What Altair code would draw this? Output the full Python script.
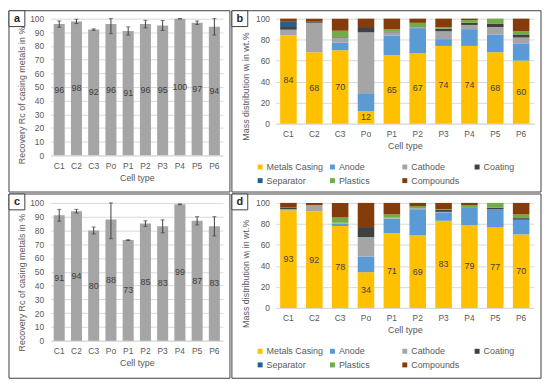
import altair as alt
import pandas as pd

cells = ["C1", "C2", "C3", "Po", "P1", "P2", "P3", "P4", "P5", "P6"]

# Panel a / c : recovery of casing metals (%) and error half-widths
rec_a = [96, 98, 92, 96, 91, 96, 95, 100, 97, 94]
err_a = [2.3, 1.6, 0.5, 7, 3, 2.8, 3.6, 0.2, 1.3, 6]
rec_c = [91, 94, 80, 88, 73, 85, 83, 99, 87, 83]
err_c = [4.3, 1.3, 2.5, 14, 0.3, 2, 4.7, 0.3, 3, 7]

components = ["Metals Casing", "Anode", "Cathode", "Coating", "Separator", "Plastics", "Compounds"]
comp_colors = ["#FFC000", "#5B9BD5", "#A5A5A5", "#404040", "#255E91", "#70AD47", "#843C0C"]

# Panel b : mass distribution (wt.%)
mc_b = [84, 68, 70, 12, 65, 67, 74, 74, 68, 60]
anode_b = [0, 0, 7, 17, 19, 24, 6.5, 16, 17, 16]
cathode_b = [5.5, 28, 5, 58, 3, 1, 7.5, 4, 7, 6]
coating_b = [2.5, 1, 0.5, 5, 0.5, 0, 2.5, 2, 3, 3]
separator_b = [5, 0, 0, 0, 0, 0, 0, 0, 0, 0]
plastics_b = [0, 0, 6, 0, 2.5, 4, 1.5, 2.5, 5, 3]
compounds_b = [3, 3, 11.5, 8, 10, 4, 8, 1.5, 0, 12]

# Panel d : mass distribution (wt.%)
mc_d = [93, 92, 78, 34, 71, 69, 83, 79, 77, 70]
anode_d = [0.5, 0, 2.5, 15, 14, 25, 8, 17, 17, 14]
cathode_d = [0.5, 6, 0.5, 18.5, 1.5, 1, 0.5, 0, 0, 0]
coating_d = [1.5, 0, 0, 9.5, 0, 0, 2, 0, 1.5, 1.5]
separator_d = [0.5, 0, 0, 0, 0, 0, 0, 0, 0, 0]
plastics_d = [0, 0, 5, 0, 2.5, 2, 0.5, 2, 4.5, 3.5]
compounds_d = [4, 2, 14, 23, 11, 3, 6, 2, 0, 11]

FONT = "Liberation Sans"
GRAY = "#595959"
DARK = "#404040"
GRID = "#D9D9D9"


def x_enc(lp, tp):
    return alt.X(
        "cell:N", sort=cells, title="Cell type",
        scale=alt.Scale(paddingInner=0.36, paddingOuter=0.18),
        axis=alt.Axis(title="Cell type", labelAngle=0, ticks=False, grid=False,
                      domainColor=GRID, labelPadding=lp, titlePadding=tp),
    )


def decorations(letter, w, h, fl, fr, ft, fb):
    frame = alt.Chart(pd.DataFrame({"k": [0]})).mark_rect(
        fillOpacity=0, stroke=DARK, strokeWidth=1
    ).encode(x=alt.value(fl), x2=alt.value(w + fr), y=alt.value(ft), y2=alt.value(h + fb))
    box = alt.Chart(pd.DataFrame({"k": [0]})).mark_rect(
        fill="white", stroke=DARK, strokeWidth=1
    ).encode(x=alt.value(fl), x2=alt.value(fl + 16), y=alt.value(ft), y2=alt.value(ft + 16))
    lab = alt.Chart(pd.DataFrame({"l": [letter]})).mark_text(
        font=FONT, fontSize=11, fontWeight="bold", color="#262626", baseline="middle", align="center"
    ).encode(x=alt.value(fl + 8), y=alt.value(ft + 8.5), text="l:N")
    return frame, box, lab


def rec_y(field, ty):
    return alt.Y(field, scale=alt.Scale(domain=[0, 100]), title="Recovery Rc of casing metals in %",
                 axis=alt.Axis(values=list(range(0, 101, 10)),
                               title="Recovery Rc of casing metals in %",
                               labelPadding=7, titlePadding=3, titleLimit=300, titleY=ty))


def comp_y(field, ty, stack=None):
    kw = {}
    if stack is not None:
        kw["stack"] = stack
    return alt.Y(field, scale=alt.Scale(domain=[0, 100]), title="Mass distribution wᵢ in wt.%",
                 axis=alt.Axis(values=list(range(0, 101, 20)),
                               title="Mass distribution wᵢ in wt.%",
                               labelPadding=6, titlePadding=5, titleLimit=300, titleY=ty), **kw)


def recovery_panel(vals, errs, letter, w, h, ft, fb, ty):
    df = pd.DataFrame({"cell": cells, "v": vals, "e": errs})
    df["lo"] = df["v"] - df["e"]
    df["hi"] = (df["v"] + df["e"]).clip(upper=100)
    base = alt.Chart(df)
    x = x_enc(6, 4)
    bars = base.mark_bar(color="#A5A5A5").encode(x=x, y=rec_y("v:Q", ty))
    rule = base.mark_rule(color=DARK, strokeWidth=1).encode(
        x=x, y=rec_y("lo:Q", ty), y2="hi:Q")
    caps = base.transform_fold(["lo", "hi"], as_=["end", "val"]).mark_tick(
        color=DARK, size=4, thickness=1).encode(x=x, y=rec_y("val:Q", ty))
    text = base.transform_calculate(mid="datum.v / 2").mark_text(
        font=FONT, fontSize=9, color=DARK, baseline="middle").encode(
        x=x, y=rec_y("mid:Q", ty), text="v:Q")
    frame, box, lab = decorations(letter, w, h, -42, 7, ft, fb)
    return alt.layer(frame, bars, rule, caps, text, box, lab).properties(width=w, height=h)


def comp_panel(series, letter, w, h, ft, fb, ty):
    rows = []
    for i, comp in enumerate(components):
        for j, c in enumerate(cells):
            rows.append({"cell": c, "comp": comp, "idx": i, "v": series[i][j]})
    df = pd.DataFrame(rows)
    x = x_enc(5.5, 4)
    bars = alt.Chart(df).mark_bar().encode(
        x=x,
        y=comp_y("v:Q", ty, stack="zero"),
        color=alt.Color("comp:N", scale=alt.Scale(domain=components, range=comp_colors),
                        legend=alt.Legend(title=None, orient="none", legendX=-20, legendY=h + 39,
                                          direction="horizontal", columns=4, gridAlign="all",
                                          symbolType="square", symbolSize=25, symbolStrokeWidth=0,
                                          labelFontSize=9, labelFont=FONT, labelColor=GRAY,
                                          labelOffset=2, columnPadding=4, rowPadding=4)),
        order=alt.Order("idx:Q", sort="ascending"),
    )
    tdf = pd.DataFrame({"cell": cells, "m": series[0]})
    text = alt.Chart(tdf).transform_calculate(mid="datum.m / 2").mark_text(
        font=FONT, fontSize=9, color=DARK, baseline="middle").encode(
        x=x, y=comp_y("mid:Q", ty), text="m:Q")
    frame, box, lab = decorations(letter, w, h, -44, 7, ft, fb)
    return alt.layer(frame, bars, text, box, lab).properties(width=w, height=h)


pa = recovery_panel(rec_a, err_a, "a", 174, 138, -8, 37, 77)
pb = comp_panel([mc_b, anode_b, cathode_b, coating_b, separator_b, plastics_b, compounds_b],
                "b", 261, 106, -8, 69, 68)
pc = recovery_panel(rec_c, err_c, "c", 174, 139, -9, 38, 80)
pd_ = comp_panel([mc_d, anode_d, cathode_d, coating_d, separator_d, plastics_d, compounds_d],
                 "d", 261, 106, -9, 71, 71)

top = alt.hconcat(pa, pb, spacing=0).resolve_scale(
    color="independent", x="independent", y="independent").resolve_legend(color="independent")
bottom = alt.hconcat(pc, pd_, spacing=0).resolve_scale(
    color="independent", x="independent", y="independent").resolve_legend(color="independent")

chart = alt.vconcat(top, bottom, spacing=0).resolve_scale(
    color="independent", x="independent", y="independent"
).resolve_legend(color="independent").properties(
    padding={"left": 0, "top": 0, "right": 0, "bottom": 0},
    background="white",
).configure_view(stroke=None).configure_axis(
    labelFont=FONT, titleFont=FONT, labelColor=GRAY, titleColor=GRAY,
    labelFontSize=8.5, titleFontSize=9, titleFontWeight="normal",
    gridColor=GRID, gridWidth=1,
).configure_axisY(domain=False, ticks=False)

chart.save("out.html", embed_options={"renderer": "svg", "actions": False})
